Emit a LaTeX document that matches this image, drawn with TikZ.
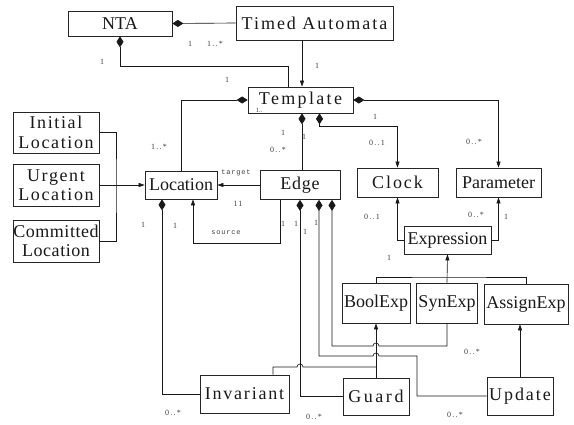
\documentclass[tikz,border=0pt]{standalone}
\usepackage{fontspec}
\setmainfont{Liberation Serif}
\newfontfamily\monof{Liberation Mono}
\usetikzlibrary{arrows.meta}
\begin{document}
\begin{tikzpicture}[x=1pt,y=-1pt,
 cls/.style={draw=black!85, line width=0.7pt, inner sep=0pt, align=center,
   font=\fontsize{18}{19.5}\selectfont, text=black!90},
 sp/.style={font=\fontsize{18}{19.5}\selectfont\addfontfeatures{LetterSpace=#1}},
 ln/.style={draw=black!90, line width=0.65pt},
 comp/.style={ln, {Diamond[length=11pt,width=7pt]}-},
 arr/.style={ln, -{Triangle[length=6pt,width=4pt]}},
 comparr/.style={ln, {Diamond[length=11pt,width=7pt]}-{Triangle[length=6pt,width=4pt]}},
 lbl/.style={font=\fontsize{8}{9}\selectfont\addfontfeatures{LetterSpace=15}, text=black!75, inner sep=0pt},
 rl/.style={font=\monof\fontsize{7}{8}\selectfont\addfontfeatures{LetterSpace=12}, text=black!75, inner sep=0pt}
]
\useasboundingbox[fill=white] (0,0) rectangle (574,424);

% classes
\node[cls, minimum width=104pt, minimum height=25pt] (nta) at (120,23.5) {NTA};
\node[cls, sp=11, minimum width=157pt, minimum height=34pt] (ta) at (314.5,23) {Timed Automata};
\node[cls, sp=13, minimum width=105pt, minimum height=26pt] (tpl) at (300.5,100) {Template};
\node[cls, sp=9, minimum width=86pt, minimum height=41pt] (init) at (56,132.5) {Initial\\Location};
\node[cls, sp=9, minimum width=86pt, minimum height=42pt] (urg) at (56,185) {Urgent\\Location};
\node[cls, sp=3, minimum width=86pt, minimum height=42pt] (comm) at (56,241) {Committed\\Location};
\node[cls, minimum width=72pt, minimum height=28pt] (loc) at (181,185) {Location};
\node[cls, sp=4, minimum width=80pt, minimum height=29pt] (edge) at (300,185) {Edge};
\node[cls, sp=11, minimum width=81pt, minimum height=29pt] (clock) at (397.5,182.5) {Clock};
\node[cls, minimum width=85pt, minimum height=29pt] (param) at (498.5,182.5) {Parameter};
\node[cls, minimum width=87pt, minimum height=28pt] (expr) at (447.5,240) {Expression};
\node[cls, minimum width=68pt, minimum height=40pt] (bool) at (376,303) {BoolExp};
\node[cls, minimum width=61pt, minimum height=40pt] (syn) at (447,303) {SynExp};
\node[cls, minimum width=84pt, minimum height=40pt] (assign) at (526,304) {AssignExp};
\node[cls, sp=10, minimum width=89pt, minimum height=38pt] (inv) at (244.5,394) {Invariant};
\node[cls, sp=14, minimum width=66pt, minimum height=37pt] (guard) at (376,396.5) {Guard};
\node[cls, sp=11, minimum width=66pt, minimum height=38pt] (update) at (520,396) {Update};

% connectors
\draw[comp] (nta.east) -- (ta.west);
\draw[comp] (nta.south) |- ([xshift=-12.5pt,yshift=20pt]tpl.north) -- ([xshift=-12.5pt]tpl.north);
\draw[arr] ([xshift=-12.5pt]ta.south) -- ([xshift=1.5pt]tpl.north);
\draw[comp] (tpl.west) -| (loc.north);
\draw[comp] ([xshift=1.5pt]tpl.south) -- ([xshift=2pt]edge.north);
\draw[comparr] ([xshift=19pt]tpl.south) |- ([yshift=41pt]clock.north) -- (clock.north);
\draw[comparr] (tpl.east) -| (param.north);
\draw[arr] (expr.west) -| (clock.south);
\draw[arr] (expr.east) -| (param.south);

% generalisation of expressions
\coordinate (g) at (447,277);
\draw[ln] (bool.north) |- (g) -| (assign.north);
\draw[arr] (syn.north) -- (expr.south);

% locations
\coordinate (gl) at (116,185);
\draw[ln] (init.east) -| (gl) |- (comm.east);
\draw[arr] (urg.east) -- (loc.west);

% edge - location
\draw[arr] (edge.west) -- (loc.east);
\draw[arr] ([xshift=-20pt]edge.south) |- ([xshift=12pt,yshift=-44pt]loc.south) -- ([xshift=12pt]loc.south);

% invariants, guards, updates
\draw[comp] ([xshift=-19pt]loc.south) |- (inv.west);
\draw[comp] (edge.south) |- (guard.west);
\draw[comp] ([xshift=19pt]edge.south) -- (319,356) -- (373,356)
   arc[start angle=180,end angle=0,radius=3pt] -- (417,356) |- (update.west);
\draw[comp] ([xshift=32pt]edge.south) -- (332,346) -- (373,346)
   arc[start angle=180,end angle=0,radius=3pt] -- (447,346) -- (syn.south);
\draw[arr] (guard.north) -- (bool.south);
\draw[ln] ([xshift=28.5pt]inv.north) |- (297,367)
   arc[start angle=180,end angle=0,radius=3pt] -- (guard.north |- 0,367);
\draw[arr] (update.north) -- (update.north |- assign.south);

% multiplicities
\node[lbl] (m1) at (190,44) {1};
\node[lbl] (m2) at (215,44) {1..*};
\node[lbl] (m3) at (102,62) {1};
\node[lbl] (m4) at (227,80) {1};
\node[lbl] (m5) at (317,66) {1};
\node[lbl, font=\fontsize{6.5}{7}\selectfont] (m6) at (259,110) {1..};
\node[lbl] (m7) at (159,147) {1..*};
\node[lbl] (m8) at (283,133) {1};
\node[lbl] (m9) at (278,150) {0..*};
\node[lbl] (m10) at (304,137) {1};
\node[lbl] (m11) at (375,117) {1};
\node[lbl] (m12) at (377,143) {0..1};
\node[lbl] (m13) at (474,142) {0..*};
\node[lbl] (m14) at (372,217) {0..1};
\node[lbl] (m15) at (476,215) {0..*};
\node[lbl] (m16) at (506,217) {1};
\node[lbl] (m17) at (389,258) {1};
\node[rl] (t1) at (236,173) {target};
\node[lbl] (m18) at (238,204) {11};
\node[rl] (t2) at (226,233) {source};
\node[lbl] (m19) at (143,225) {1};
\node[lbl] (m20) at (175,226) {1};
\node[lbl] (m21) at (283,224) {1};
\node[lbl] (m22) at (296,224) {1};
\node[lbl] (m23) at (305,232) {1};
\node[lbl] (m24) at (316,223) {1};
\node[lbl] (m25) at (173,413) {0..*};
\node[lbl] (m26) at (314,417) {0..*};
\node[lbl] (m27) at (472,352) {0..*};
\node[lbl] (m28) at (455,415) {0..*};
\end{tikzpicture}
\end{document}
